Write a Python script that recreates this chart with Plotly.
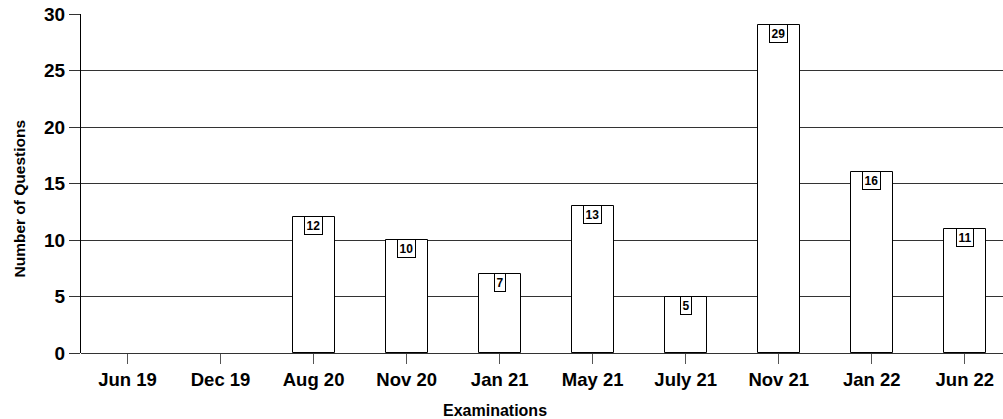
import plotly.graph_objects as go

exams = ["Jun 19", "Dec 19", "Aug 20", "Nov 20", "Jan 21", "May 21", "July 21", "Nov 21", "Jan 22", "Jun 22"]
questions = [0, 0, 12, 10, 7, 13, 5, 29, 16, 11]
y_ticks = [0, 5, 10, 15, 20, 25, 30]

FONT = "Liberation Sans"

fig = go.Figure()
fig.add_trace(go.Bar(
    x=list(range(len(exams))), y=questions, width=0.45,
    marker=dict(color="white",
                line=dict(color="black", width=[1 if v > 0 else 0 for v in questions])),
    showlegend=False, hoverinfo="skip",
))

for i, v in enumerate(questions):
    if v > 0:
        fig.add_annotation(
            x=i, y=v, yanchor="top", yshift=1, text=f"<b>{v}</b>", showarrow=False,
            font=dict(family=FONT, size=12, color="black"),
            bgcolor="white", bordercolor="black", borderwidth=1, borderpad=1.5,
        )

# axis titles
fig.add_annotation(
    xref="paper", yref="paper", x=0, y=0.5, xshift=-62.5, yshift=-15.5,
    xanchor="center", yanchor="middle", textangle=-90, showarrow=False,
    text="<b>Number of Questions</b>", font=dict(family=FONT, size=15.5, color="black"),
)
fig.add_annotation(
    xref="paper", yref="paper", x=0, y=0, xshift=414, yshift=-57,
    xanchor="center", yanchor="middle", showarrow=False,
    text="<b>Examinations</b>", font=dict(family=FONT, size=16, color="black"),
)

fig.update_layout(
    width=1003, height=419,
    margin=dict(l=81, r=0, t=14, b=66),
    plot_bgcolor="white", paper_bgcolor="white",
    font=dict(family=FONT, color="black"),
    bargap=0,
)
fig.update_xaxes(
    range=[-0.5, 9.41], automargin=False,
    tickmode="array", tickvals=list(range(len(exams))),
    ticktext=[f"<b>{e}</b>" for e in exams],
    tickfont=dict(family=FONT, size=18.5, color="black"),
    ticks="outside", ticklen=10, tickcolor="#555", tickwidth=1,
    showgrid=False, zeroline=False, showline=False,
)
fig.update_yaxes(
    range=[0, 30], automargin=False,
    tickmode="array", tickvals=y_ticks,
    ticktext=[f"<b>{t}</b>" for t in y_ticks],
    tickfont=dict(family=FONT, size=19, color="black"),
    ticks="outside", ticklen=11, tickcolor="#333", tickwidth=1,
    showgrid=True, gridcolor="#333", gridwidth=1,
    zeroline=True, zerolinecolor="#333", zerolinewidth=1,
    showline=True, linecolor="black", linewidth=1,
)

fig.write_html(
    "out.html",
    config={"displayModeBar": False},
    post_script="document.body.style.margin='0';document.body.style.overflow='hidden';",
)
